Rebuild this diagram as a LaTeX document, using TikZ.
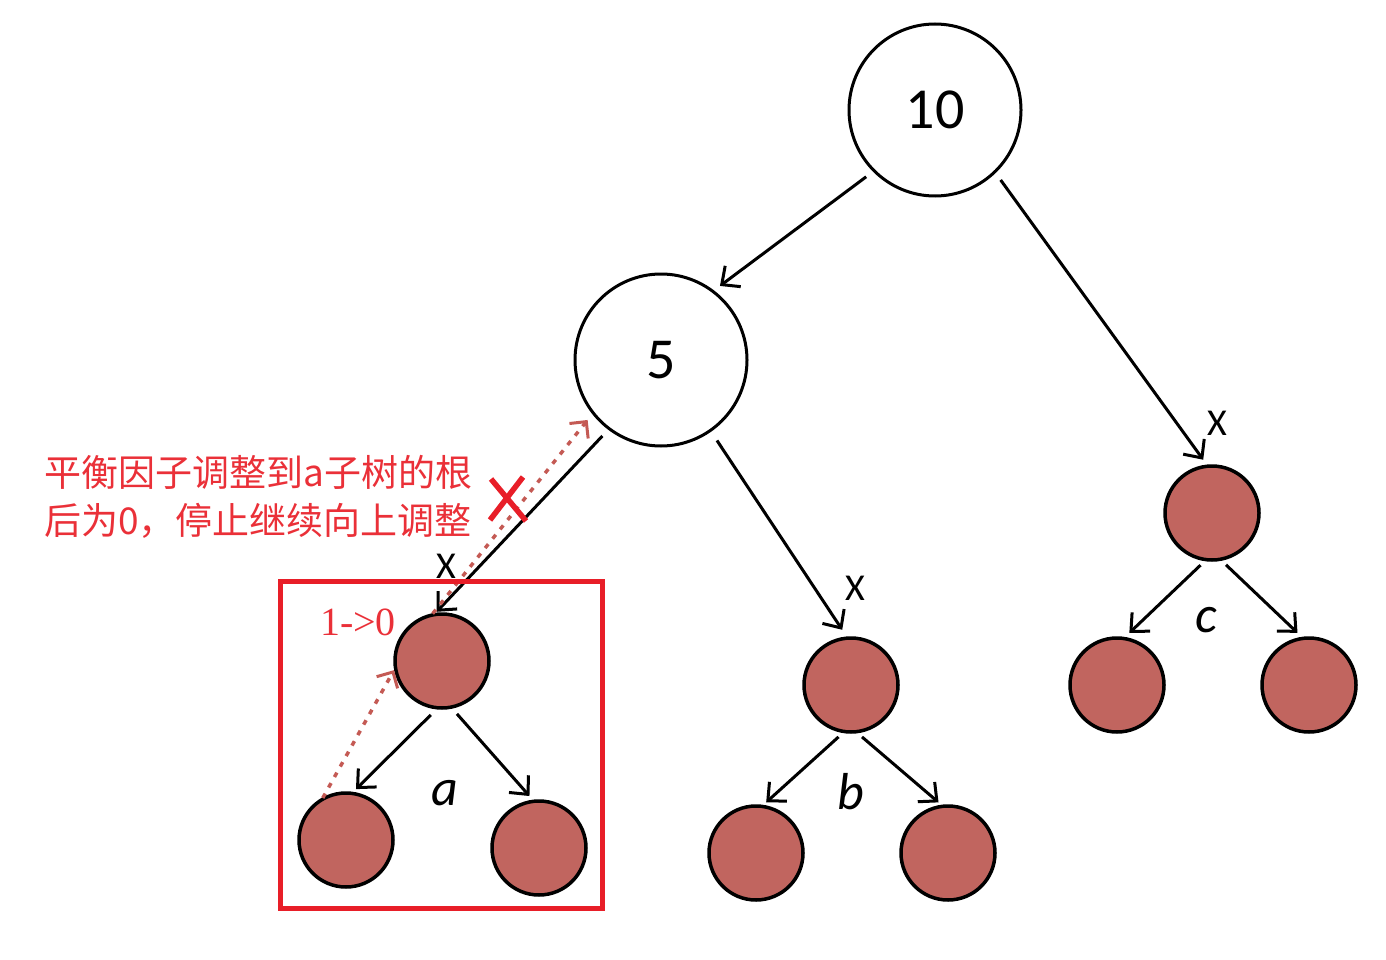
\documentclass[tikz,border=0pt]{standalone}
\usepackage{fontspec}
\setmainfont{Carlito}
\newfontfamily\cjk{Noto Sans CJK SC}
\newfontfamily\serifnum{Liberation Serif}
\usetikzlibrary{arrows.meta}
\definecolor{nodefill}{RGB}{193,101,95}
\definecolor{boxred}{RGB}{232,30,40}
\definecolor{txtred}{RGB}{234,48,56}
\definecolor{dotred}{RGB}{196,90,84}
\begin{document}
\begin{tikzpicture}[x=1pt,y=-1pt,
  bignode/.style={circle,draw,line width=3pt,fill=white,minimum size=172pt,inner sep=0pt,outer sep=0pt,font=\fontsize{58}{60}\selectfont},
  smallnode/.style={circle,draw,line width=3.5pt,fill=nodefill,minimum size=94pt,inner sep=0pt,outer sep=0pt},
  edge/.style={line width=3pt,-{Straight Barb[length=14pt,width=26pt,line width=3pt]}},
  dotarrow/.style={dotred,line width=3.5pt,dash pattern=on 5pt off 7pt,-{Straight Barb[length=12pt,width=24pt,line width=3pt]}},
  xlabel/.style={font=\fontsize{38}{40}\selectfont,inner sep=0pt},
  sublabel/.style={font=\fontsize{52}{54}\selectfont\itshape,inner sep=0pt}]
\useasboundingbox (0,0) rectangle (1386,960);
% nodes
\node[bignode] (n10) at (935,110) {10};
\node[bignode] (n5) at (661,360) {5};
\node[smallnode] (a) at (442,661) {};
\node[smallnode] (al) at (346,840) {};
\node[smallnode] (ar) at (539,848) {};
\node[smallnode] (b) at (851,685) {};
\node[smallnode] (bl) at (756,853) {};
\node[smallnode] (br) at (948,853) {};
\node[smallnode] (c) at (1212,513) {};
\node[smallnode] (cl) at (1117,685) {};
\node[smallnode] (cr) at (1309,685) {};
% edges
\draw[edge,shorten <=10pt,shorten >=9pt] (n10.225) -- (n5.53);
\draw[edge,shorten <=10pt,shorten >=8pt] (n10.314) -- (c.95);
\draw[edge,shorten <=10pt,shorten >=4pt] (n5.233) -- (a.100);
\draw[edge,shorten <=12pt,shorten >=10pt] (n5.305) -- (b.94);
\draw[edge,shorten <=10pt,shorten >=6pt] (a.265) -- (al.83);
\draw[edge,shorten <=9pt,shorten >=7pt] (a.281) -- (ar.96);
\draw[edge,shorten <=8pt,shorten >=6pt] (b.262) -- (bl.83);
\draw[edge,shorten <=8pt,shorten >=6pt] (b.276) -- (br.96);
\draw[edge,shorten <=8pt,shorten >=8pt] (c.263) -- (cl.82);
\draw[edge,shorten <=8pt,shorten >=8pt] (c.280) -- (cr.97);
% labels
\node[xlabel] (x1) at (446,566) {X};
\node[xlabel] (x2) at (855,588) {X};
\node[xlabel] (x3) at (1217,423) {X};
\node[sublabel] (la) at (445,793) {a};
\node[sublabel] (lb) at (851,792) {b};
\node[sublabel] (lc) at (1206,620) {c};
% dotted arrows
\draw[dotarrow,shorten <=2pt,shorten >=3pt] (al.121) -- (a.188);
\draw[dotarrow,shorten <=2pt,shorten >=9pt] (a.103) -- (n5.218);
% red cross
\draw[boxred,line width=5.5pt] (491,479) -- (526,521);
\draw[boxred,line width=5.5pt] (523,477) -- (490,520);
% red box
\draw[boxred,line width=5pt] (280.5,581.5) rectangle (602.5,908.5);
% texts
\node[anchor=west,align=left,text=txtred,inner sep=0pt,font=\cjk\fontsize{37}{48}\selectfont] (note) at (44,497) {平衡因子调整到a子树的根\\后为0，停止继续向上调整};
\node[text=txtred,inner sep=0pt,font=\serifnum\fontsize{40}{42}\selectfont] (bf) at (358,622) {1->0};
\end{tikzpicture}
\end{document}
